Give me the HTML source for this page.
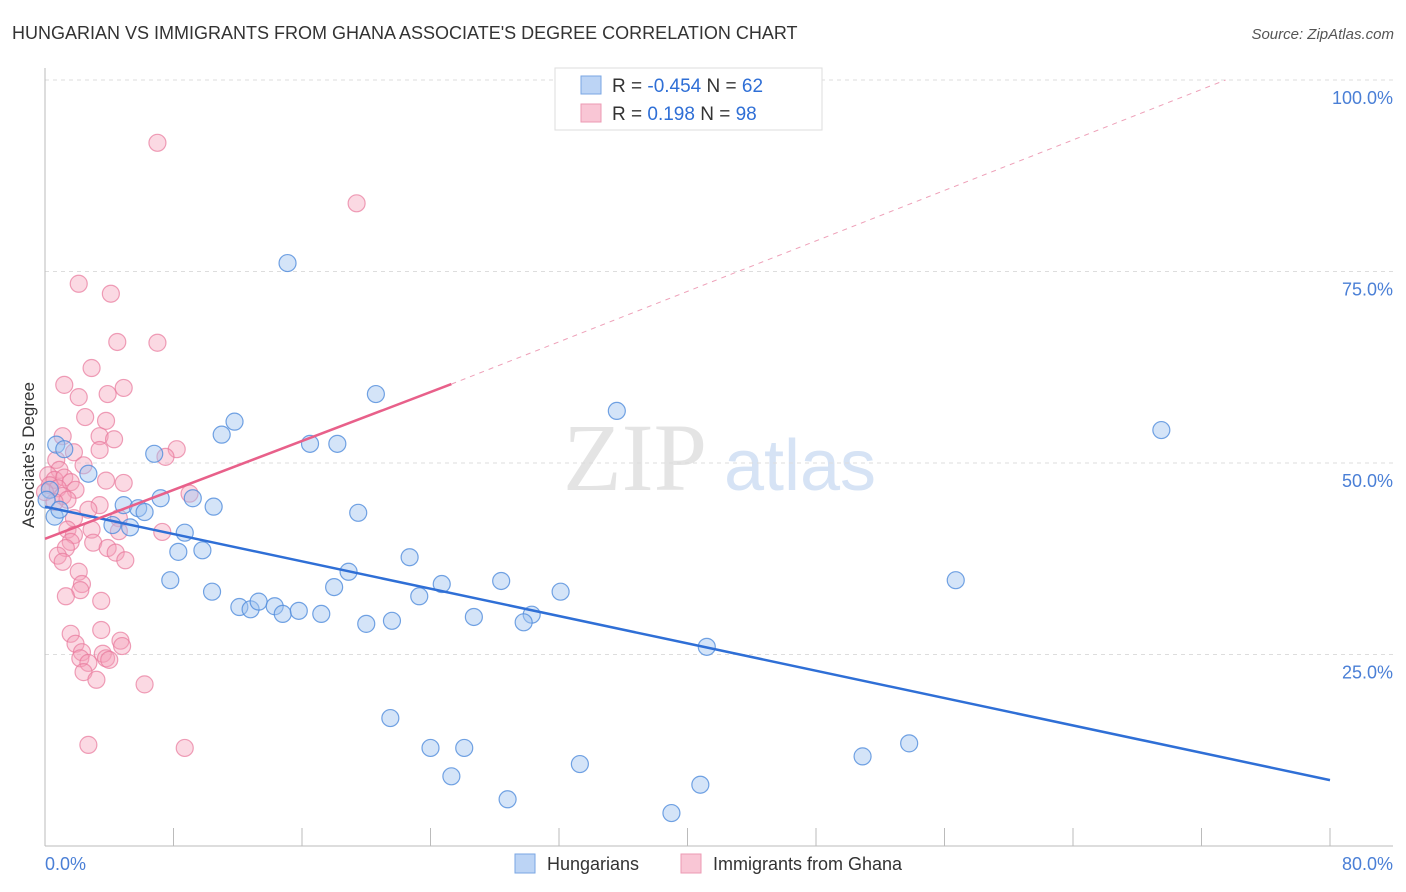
<!DOCTYPE html>
<html><head><meta charset="utf-8"><style>
body{margin:0;background:#fff;font-family:"Liberation Sans",sans-serif}
svg{display:block}
</style></head><body>
<svg id="c" width="1406" height="892">
<text x="12" y="39" font-size="18" fill="#333">HUNGARIAN VS IMMIGRANTS FROM GHANA ASSOCIATE'S DEGREE CORRELATION CHART</text>
<text x="1394" y="39" font-size="15" fill="#555" font-style="italic" text-anchor="end">Source: ZipAtlas.com</text>
<text x="635" y="490" font-size="96" fill="#e4e4e4" font-family="Liberation Serif" text-anchor="middle">ZIP</text>
<text x="800" y="490" font-size="72" fill="#d6e3f5" text-anchor="middle">atlas</text>
<g id="grid"></g><g id="axes"></g><g id="pts"></g><g id="lines"></g>
<text transform="translate(34,455) rotate(-90)" font-size="17" fill="#333" text-anchor="middle">Associate's Degree</text>
<text x="45" y="870" font-size="18" fill="#4a7fd6">0.0%</text>
<text x="1393" y="870" font-size="18" fill="#4a7fd6" text-anchor="end">80.0%</text>
<g>
<rect x="555" y="68" width="267" height="62" fill="#fff" stroke="#ddd"/>
<rect x="581" y="76" width="20" height="18" fill="#bcd4f5" stroke="#7aa6e3"/>
<rect x="581" y="104" width="20" height="18" fill="#f9c6d5" stroke="#ec9ab3"/>
<text x="612" y="92" font-size="19" fill="#333">R = <tspan fill="#2f6fd6">-0.454</tspan>   N = <tspan fill="#2f6fd6">62</tspan></text>
<text x="612" y="120" font-size="19" fill="#333">R =    <tspan fill="#2f6fd6">0.198</tspan>   N = <tspan fill="#2f6fd6">98</tspan></text>
</g>
<g>
<rect x="515" y="854" width="20" height="19" fill="#bcd4f5" stroke="#7aa6e3"/>
<text x="547" y="870" font-size="18" fill="#333">Hungarians</text>
<rect x="681" y="854" width="20" height="19" fill="#f9c6d5" stroke="#ec9ab3"/>
<text x="713" y="870" font-size="18" fill="#333">Immigrants from Ghana</text>
</g>
</svg>
<script>
const yTicks=[25,50,75,100];
const yTickLabels=["25.0%","50.0%","75.0%","100.0%"];
const xTicks=[0,8,16,24,32,40,48,56,64,72,80];
const blueX=[15.1,20.6,35.6,69.5,11.8,11.0,16.5,18.2,6.8,0.7,1.2,2.7,7.2,9.2,10.5,4.9,5.8,6.2,19.5,5.3,4.2,8.7,8.3,9.8,22.7,18.9,7.8,24.7,28.4,18.0,32.1,10.4,23.3,12.1,12.8,13.3,14.3,14.8,15.8,17.2,26.7,30.3,29.8,20.0,21.6,56.7,41.2,21.5,24.0,26.1,25.3,33.3,50.9,53.8,28.8,40.8,39.0,0.6,0.3,0.1,0.9];
const blueY=[76.1,59.0,56.8,54.3,55.4,53.7,52.5,52.5,51.2,52.4,51.8,48.6,45.4,45.4,44.3,44.5,44.1,43.6,43.5,41.6,41.9,40.9,38.4,38.6,37.7,35.8,34.7,34.2,34.6,33.8,33.2,33.2,32.6,31.2,30.9,31.9,31.3,30.3,30.7,30.3,29.9,30.2,29.2,29.0,29.4,34.7,26.0,16.7,12.8,12.8,9.1,10.7,11.7,13.4,6.1,8.0,4.3,43.0,46.5,45.2,43.9];
const pinkX=[7.0,19.4,2.1,4.1,4.5,7.0,2.9,1.2,4.9,2.1,3.9,2.5,3.8,1.1,3.4,4.3,8.2,1.8,3.4,7.5,0.7,2.4,0.9,0.2,0.6,1.2,1.6,0.3,0.8,1.9,3.8,4.9,0,1.1,1.4,0.6,9.0,3.4,2.7,1.8,4.6,1.4,4.6,2.9,7.3,1.8,1.6,3.0,1.3,3.9,4.4,0.8,1.1,5.0,2.1,2.3,2.2,1.3,3.5,1.6,3.5,1.9,4.7,4.8,2.3,2.2,3.6,3.8,2.7,2.4,3.2,6.2,2.7,8.7,4.0];
const pinkY=[91.8,83.9,73.4,72.1,65.8,65.7,62.4,60.2,59.8,58.6,59.0,56.0,55.5,53.5,53.5,53.1,51.8,51.4,51.7,50.8,50.4,49.7,49.1,48.4,47.8,48.1,47.5,47.1,46.7,46.5,47.7,47.4,46.2,45.7,45.2,44.9,46.0,44.5,43.9,42.8,42.8,41.3,41.1,41.3,41.0,40.6,39.7,39.6,38.9,38.9,38.3,37.9,37.1,37.3,35.8,34.2,33.4,32.6,32.0,27.7,28.2,26.4,26.8,26.1,25.3,24.5,25.1,24.5,23.9,22.7,21.7,21.1,13.2,12.8,24.3];
const blueTrend=[0,44.3,80,8.6];
const pinkTrend=[0,40.1,25.3,60.3,73.5,100];
const X=v=>45+v/80*1285, Y=v=>846-v/100*766;
const NS="http://www.w3.org/2000/svg";
function mk(p,t,a){const e=document.createElementNS(NS,t);for(const k in a)e.setAttribute(k,a[k]);document.getElementById(p).appendChild(e);return e;}
yTicks.forEach((t,i)=>{
 const g=mk('grid','line',{x1:45,x2:1393,y1:Y(t),y2:Y(t),stroke:'#ddd','stroke-dasharray':'4,4'});
 
 
 const l=mk('grid','text',{x:1393,y:Y(t)+24,'font-size':18,fill:'#4a7fd6','text-anchor':'end'});
 l.textContent=yTickLabels[i];
 
 
});
const ax=mk('axes','line',{x1:45,x2:45,y1:68,y2:846,stroke:'#bbb'});


const bx=mk('axes','line',{x1:45,x2:1393,y1:846,y2:846,stroke:'#bbb'});


xTicks.forEach(t=>{
 const k=mk('axes','line',{x1:X(t),x2:X(t),y1:828,y2:846,stroke:'#bbb'});
 
 
});
pinkX.forEach((v,i)=>{
 const c=mk('pts','circle',{cx:X(v),cy:Y(pinkY[i]),r:8.5,fill:'rgba(244,160,185,0.4)',stroke:'rgba(232,120,155,0.7)','stroke-width':1.2});
 
 
});
blueX.forEach((v,i)=>{
 const c=mk('pts','circle',{cx:X(v),cy:Y(blueY[i]),r:8.5,fill:'rgba(160,195,240,0.45)',stroke:'rgba(80,140,220,0.8)','stroke-width':1.2});
 
 
});
const bl=mk('lines','line',{x1:X(blueTrend[0]),y1:Y(blueTrend[1]),x2:X(blueTrend[2]),y2:Y(blueTrend[3]),stroke:'#2f6fd6','stroke-width':2.5});


const pl=mk('lines','line',{x1:X(pinkTrend[0]),y1:Y(pinkTrend[1]),x2:X(pinkTrend[2]),y2:Y(pinkTrend[3]),stroke:'#e8608a','stroke-width':2.5});


const pd=mk('lines','line',{x1:X(pinkTrend[2]),y1:Y(pinkTrend[3]),x2:X(pinkTrend[4]),y2:Y(pinkTrend[5]),stroke:'#eea0b8','stroke-width':1,'stroke-dasharray':'5,5'});


</script>
</body></html>
